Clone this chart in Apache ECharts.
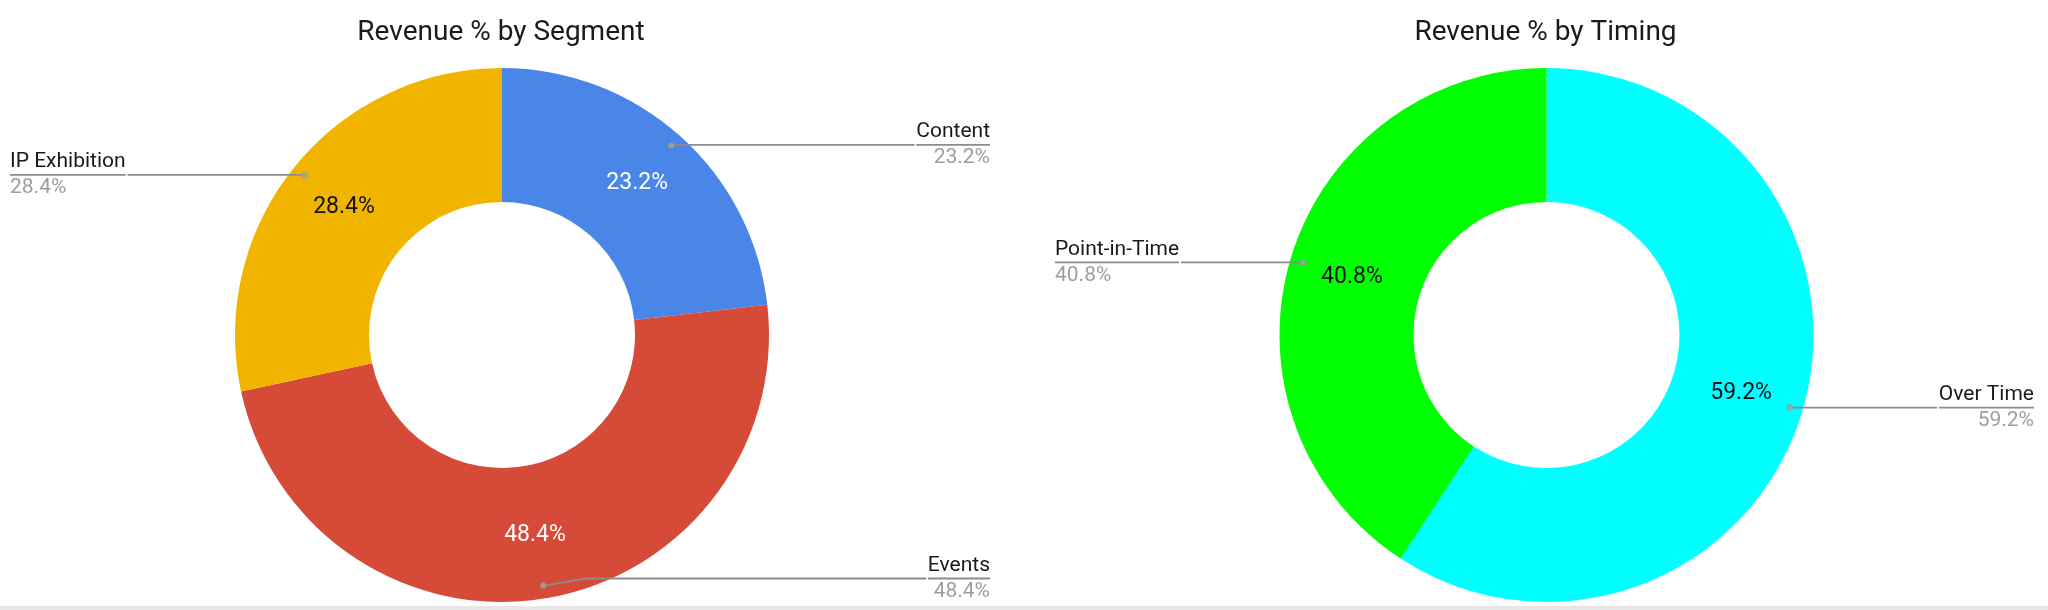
<!DOCTYPE html>
<html>
<head>
<meta charset="utf-8">
<script src="https://cdn.jsdelivr.net/npm/echarts@6/dist/echarts.min.js"></script>
<style>
  html, body { margin: 0; padding: 0; background: #ffffff; }
  #chart { width: 2048px; height: 610px; }
</style>
</head>
<body>
<div id="chart"></div>
<script>
// ---- data ----
const segmentNames = ['Content', 'Events', 'IP Exhibition'];
const segmentValues = [23.2, 48.4, 28.4];
const timingNames = ['Over Time', 'Point-in-Time'];
const timingValues = [59.2, 40.8];
const titles = ['Revenue % by Segment', 'Revenue % by Timing'];

// ---- styles ----
const segmentColors = ['#4A86E8', '#D64A38', '#F1B500'];
const segmentInnerText = ['#ffffff', '#ffffff', '#111111'];
const timingColors = ['#00FFFF', '#00FF00'];
const timingInnerText = ['#111111', '#111111'];

const FONT = 'Roboto, "Noto Sans", sans-serif';
const CY = 335, R_OUT = 267, R_IN = 133, R_DOT = 254;
const boxes = [{ left: 0, width: 1000, cx: 502 }, { left: 1045, width: 999, cx: 501.5 }];

function fmt(v) { return v.toFixed(1) + '%'; }

function midValues(vals) {
  const out = []; let acc = 0;
  vals.forEach(v => { out.push(acc + v / 2); acc += v; });
  return out;
}

function buildSeries(idx, names, values, colors, innerText) {
  const box = boxes[idx];
  const donut = {
    type: 'pie',
    left: box.left, width: box.width, top: 0, height: 603,
    center: [box.cx, CY],
    radius: [R_IN, R_OUT],
    startAngle: 90, clockwise: true,
    silent: true,
    z: 2,
    data: names.map((n, i) => ({
      name: n, value: values[i],
      itemStyle: { color: colors[i] },
      label: { color: innerText[i] }
    })),
    label: {
      show: true, position: 'inside',
      formatter: p => fmt(p.value),
      fontFamily: FONT, fontSize: 23
    },
    labelLine: { show: false }
  };
  const labels = {
    type: 'pie',
    left: box.left, width: box.width, top: 0, height: 603,
    center: [box.cx, CY],
    radius: [0, R_DOT],
    startAngle: 90, clockwise: true,
    silent: true,
    z: 3,
    itemStyle: { color: 'rgba(0,0,0,0)' },
    data: names.map((n, i) => ({ name: n, value: values[i] })),
    label: {
      show: true, position: 'outside',
      alignTo: 'edge', edgeDistance: 10, distanceToLabelLine: 0,
      formatter: p => '{name|' + p.name + '}\n{hr|}\n{val|' + fmt(p.value) + '}',
      fontFamily: FONT,
      rich: {
        name: { fontFamily: FONT, fontSize: 21, color: '#1a1a1a', lineHeight: 26 },
        hr: { width: '100%', height: 0, borderWidth: 1.8, borderColor: '#8c8c8c' },
        val: { fontFamily: FONT, fontSize: 21, color: '#9e9e9e', lineHeight: 26 }
      }
    },
    labelLine: {
      show: true, length: 1, length2: 10, minTurnAngle: 0,
      lineStyle: { color: '#8c8c8c', width: 1.8 }
    },
    emphasis: { disabled: true }
  };
  const mids = midValues(values);
  const dots = {
    type: 'scatter',
    coordinateSystem: 'polar',
    polarIndex: idx,
    symbol: 'circle', symbolSize: 6,
    itemStyle: { color: '#a5a5a5', borderColor: '#8c8c8c', borderWidth: 0.8 },
    silent: true,
    z: 5,
    data: mids.map(m => [1, m])
  };
  return [donut, labels, dots];
}

const chart = echarts.init(document.getElementById('chart'), null, { renderer: 'canvas' });
const centers = boxes.map(b => b.left + b.cx);

chart.setOption({
  backgroundColor: '#ffffff',
  animation: false,
  title: titles.map((t, i) => ({
    text: t, left: centers[i] - 6, top: 14, textAlign: 'center',
    textStyle: { fontFamily: FONT, fontSize: 28, fontWeight: 'normal', color: '#1a1a1a' }
  })),
  polar: centers.map(c => ({ center: [c, CY], radius: R_DOT })),
  angleAxis: [0, 1].map(i => ({
    polarIndex: i, type: 'value', min: 0, max: 100, startAngle: 90, clockwise: true, show: false
  })),
  radiusAxis: [0, 1].map(i => ({
    polarIndex: i, type: 'value', min: 0, max: 1, show: false
  })),
  graphic: [{
    type: 'rect', left: 0, bottom: 0, z: 0,
    shape: { width: 2048, height: 4 },
    style: { fill: '#e6e6e6' }
  }],
  series: [
    ...buildSeries(0, segmentNames, segmentValues, segmentColors, segmentInnerText),
    ...buildSeries(1, timingNames, timingValues, timingColors, timingInnerText)
  ]
});
</script>
</body>
</html>
